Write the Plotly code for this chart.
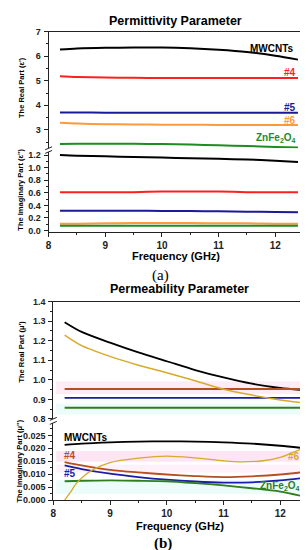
import plotly.graph_objects as go

W, H = 308, 550

# ---------------- data ----------------
freq = [8.2, 8.5, 9.0, 9.5, 10.0, 10.5, 11.0, 11.5, 12.0, 12.4]

# Permittivity real part (eps')
eps_r_mwcnt = [6.27, 6.31, 6.34, 6.35, 6.35, 6.32, 6.26, 6.17, 6.02, 5.86]
eps_r_s4 = [5.18, 5.15, 5.13, 5.12, 5.11, 5.11, 5.11, 5.11, 5.11, 5.11]
eps_r_s5 = [3.71, 3.71, 3.70, 3.70, 3.70, 3.70, 3.70, 3.70, 3.70, 3.70]
eps_r_s6 = [3.29, 3.26, 3.23, 3.22, 3.21, 3.21, 3.20, 3.20, 3.20, 3.20]
eps_r_zn = [2.42, 2.43, 2.43, 2.43, 2.42, 2.40, 2.37, 2.34, 2.30, 2.28]

# Permittivity imaginary part (eps'')
eps_i_mwcnt = [1.20, 1.19, 1.18, 1.17, 1.16, 1.15, 1.14, 1.13, 1.11, 1.09]
eps_i_s4 = [0.61, 0.61, 0.61, 0.61, 0.62, 0.62, 0.62, 0.61, 0.61, 0.61]
eps_i_s5 = [0.315, 0.315, 0.315, 0.315, 0.312, 0.31, 0.305, 0.30, 0.295, 0.29]
eps_i_s6 = [0.11, 0.11, 0.115, 0.12, 0.12, 0.12, 0.115, 0.115, 0.11, 0.11]
eps_i_zn = [0.075, 0.075, 0.075, 0.075, 0.075, 0.075, 0.075, 0.075, 0.075, 0.075]

# Permeability real part (mu')
mu_r_mwcnt = [1.295, 1.245, 1.19, 1.14, 1.095, 1.05, 1.012, 0.98, 0.958, 0.947]
mu_r_s4 = [0.953] * 10
mu_r_s5 = [0.907] * 10
mu_r_s6 = [1.229, 1.175, 1.12, 1.075, 1.036, 0.995, 0.952, 0.922, 0.897, 0.882]
mu_r_zn = [0.857] * 10

# Permeability imaginary part (mu'')
mu_i_mwcnt = [0.0213, 0.0218, 0.0223, 0.0226, 0.0227, 0.0226, 0.0223, 0.0218, 0.0210, 0.0201]
mu_i_s4 = [0.0147, 0.0134, 0.0117, 0.0107, 0.0099, 0.0093, 0.0089, 0.0092, 0.0099, 0.0108]
mu_i_s5 = [0.0134, 0.0120, 0.0102, 0.0089, 0.0079, 0.0072, 0.0068, 0.0069, 0.0076, 0.0085]
mu_i_zn = [0.0073, 0.0075, 0.0076, 0.0075, 0.0073, 0.0066, 0.0057, 0.0046, 0.0033, 0.0015]
freq_s6 = [8.2, 8.3, 8.4, 8.55, 8.7, 9.0, 9.5, 10.0, 10.5, 11.0, 11.3, 11.7, 12.0, 12.2, 12.4]
mu_i_s6 = [0.0, 0.003, 0.0063, 0.0095, 0.0118, 0.0145, 0.0162, 0.0170, 0.0163, 0.0152,
           0.0148, 0.0152, 0.0165, 0.0182, 0.0200]

# ---------------- styling ----------------
FONT = "Arial, Liberation Sans, sans-serif"
A_COL = dict(mw="#000000", s4="#ff1f1f", s5="#1a1a96", s6="#ff9a3c", zn="#1e8c1e")
B_COL = dict(mw="#000000", s4="#b4501e", s5="#1c1ca8", s6="#d6aa2a", zn="#2e7d1e")

def py(p):  # pixel-from-top -> paper y
    return 1 - p / H

def px(p):
    return p / W

fig = go.Figure()

def add(x, y, col, xa, ya, w=2):
    fig.add_trace(go.Scatter(x=x, y=y, mode="lines", line=dict(color=col, width=w, shape="spline", smoothing=0.8),
                             xaxis=xa, yaxis=ya, showlegend=False, hoverinfo="skip"))

# (a) top
for y, c in [(eps_r_mwcnt, "mw"), (eps_r_s4, "s4"), (eps_r_s5, "s5"), (eps_r_s6, "s6"), (eps_r_zn, "zn")]:
    add(freq, y, A_COL[c], "x", "y")
# (a) bottom
for y, c in [(eps_i_mwcnt, "mw"), (eps_i_s4, "s4"), (eps_i_s5, "s5"), (eps_i_s6, "s6"), (eps_i_zn, "zn")]:
    add(freq, y, A_COL[c], "x2", "y2")
# (b) top
for y, c in [(mu_r_mwcnt, "mw"), (mu_r_s4, "s4"), (mu_r_s5, "s5"), (mu_r_zn, "zn")]:
    add(freq, y, B_COL[c], "x3", "y3", 1.8)
add(freq, mu_r_s6, B_COL["s6"], "x3", "y3", 1.5)
# (b) bottom
for y, c in [(mu_i_mwcnt, "mw"), (mu_i_s4, "s4"), (mu_i_s5, "s5"), (mu_i_zn, "zn")]:
    add(freq, y, B_COL[c], "x4", "y4", 1.8)
add(freq_s6, mu_i_s6, B_COL["s6"], "x4", "y4", 1.3)

tickf = dict(family=FONT, size=9, color="#222", weight="bold")

# geometry (pixels)
AX0, AX1 = 38, 295.5
BX0, BX1 = 42.7, 297.7
A_T0, A_T1 = 19, 137.75
A_B0, A_B1 = 141.5, 223.5
B_T0, B_T1 = 294, 413.4
B_B0, B_B1 = 417.5, 496.2

def top_x(dom, anchor):
    return dict(domain=dom, range=[8, 12.5] if anchor == "y" else [8, 12.45], anchor=anchor, side="top",
                showline=True, linecolor="#222", linewidth=1, mirror=False, ticks="",
                showticklabels=False, showgrid=False, zeroline=False)

def bot_x(dom, anchor, rng):
    return dict(domain=dom, range=rng, anchor=anchor, showline=True, linecolor="#222", linewidth=1,
                ticks="outside", ticklen=4, tickwidth=1, tickcolor="#222", dtick=1, tick0=8,
                minor=dict(ticks="outside", ticklen=2, dtick=0.5, tickcolor="#222"),
                tickfont=dict(family=FONT, size=10, color="#222", weight="bold"),
                showgrid=False, zeroline=False)

def yax(dom, anchor, rng, dtick, minor, fmt):
    return dict(domain=dom, range=rng, anchor=anchor, showline=True, linecolor="#222", linewidth=1,
                mirror=True, ticks="outside", ticklen=4, tickwidth=1, tickcolor="#222", dtick=dtick, tick0=0,
                minor=dict(ticks="outside", ticklen=2, dtick=minor, tickcolor="#222"),
                tickformat=fmt, tickfont=tickf, showgrid=False, zeroline=False, ticklabelstandoff=1)

fig.update_layout(
    width=W, height=H, margin=dict(l=0, r=0, t=0, b=0),
    paper_bgcolor="white", plot_bgcolor="white", showlegend=False,
    xaxis=top_x([px(AX0), px(AX1)], "y"),
    yaxis=yax([py(A_T1), py(A_T0)], "x", [2.25, 7], 1, 0.5, "d"),
    xaxis2=bot_x([px(AX0), px(AX1)], "y2", [8, 12.5]),
    yaxis2=yax([py(A_B1), py(A_B0)], "x2", [-0.03, 1.25], 0.2, 0.1, ".1f"),
    xaxis3=top_x([px(BX0), px(BX1)], "y3"),
    yaxis3=yax([py(B_T1), py(B_T0)], "x3", [0.8, 1.4], 0.1, 0.05, ".1f"),
    xaxis4=bot_x([px(BX0), px(BX1)], "y4", [8, 12.45]),
    yaxis4=yax([py(B_B1), py(B_B0)], "x4", [0, 0.0298], 0.005, 0.0025, ".3f"),
)

# faint tinted bands in (b)
bands = [
    (375, 388, "rgba(250,200,230,0.35)"),
    (398, 409, "rgba(200,245,240,0.35)"),
    (446, 457, "rgba(250,190,225,0.4)"),
    (460, 468, "rgba(250,200,230,0.25)"),
    (476, 490, "rgba(200,245,240,0.35)"),
]
for y0, y1, col in bands:
    fig.add_shape(type="rect", xref="paper", yref="paper", x0=px(BX0 + 3), x1=px(BX1 - 3),
                  y0=py(y1), y1=py(y0), fillcolor=col, line=dict(width=0), layer="below")

# break marks
def brk(x, ya, yb):
    for yy in (ya, yb):
        fig.add_shape(type="line", xref="paper", yref="paper",
                      x0=px(x - 3.5), y0=py(yy + 1.5), x1=px(x + 3.5), y1=py(yy - 1.5),
                      line=dict(color="#222", width=1))

for x in (AX0, AX1):
    brk(x, A_T1, A_B0)
for x in (BX0, BX1):
    brk(x, B_T1, B_B0)

def ann(text, x, y, size, color="#000", xanchor="center", yanchor="middle", angle=0, family=FONT, bold=True):
    fig.add_annotation(text=text, xref="paper", yref="paper", x=px(x), y=py(y), showarrow=False,
                       xanchor=xanchor, yanchor=yanchor, textangle=angle,
                       font=dict(family=family, size=size, color=color, weight="bold" if bold else "normal"))

# titles
ann("Permittivity Parameter", 166, 8, 12.5)
ann("Permeability Parameter", 170, 281, 12.5)
ann("Frequency (GHz)", 167, 247, 11)
ann("Frequency (GHz)", 171, 522.5, 11)
ann("(a)", 151, 267, 15, family="Liberation Serif, serif", bold=False)
ann("(b)", 153, 540, 15, family="Liberation Serif, serif", bold=True)

# y labels
ann("The Real Part (ε')", 10.5, 76, 7.5, angle=-90)
ann("The Imaginary Part (ε'')", 10, 180, 7.5, angle=-90)
ann("The Real Part (μ')", 11, 345, 7.5, angle=-90)
ann("The Imaginary Part (μ'')", 9, 456, 7.5, angle=-90)

# series labels (a)
ann("MWCNTs", 288, 36, 10, A_COL["mw"], xanchor="right")
ann("#4", 290, 61, 10, A_COL["s4"], xanchor="right")
ann("#5", 290, 96, 10, A_COL["s5"], xanchor="right")
ann("#6", 290, 109, 10, A_COL["s6"], xanchor="right")
ann("ZnFe<sub>2</sub>O<sub>4</sub>", 290, 127, 10, A_COL["zn"], xanchor="right")

# series labels (b)
ann("MWCNTs", 52, 432, 10, B_COL["mw"], xanchor="left")
ann("#4", 52, 451, 10, B_COL["s4"], xanchor="left")
ann("#5", 52, 469, 10, B_COL["s5"], xanchor="left")
ann("#6", 294, 451.5, 10, B_COL["s6"], xanchor="right")
ann("ZnFe<sub>2</sub>O<sub>4</sub>", 294, 482, 10, B_COL["zn"], xanchor="right")

fig.write_html("out.html")
